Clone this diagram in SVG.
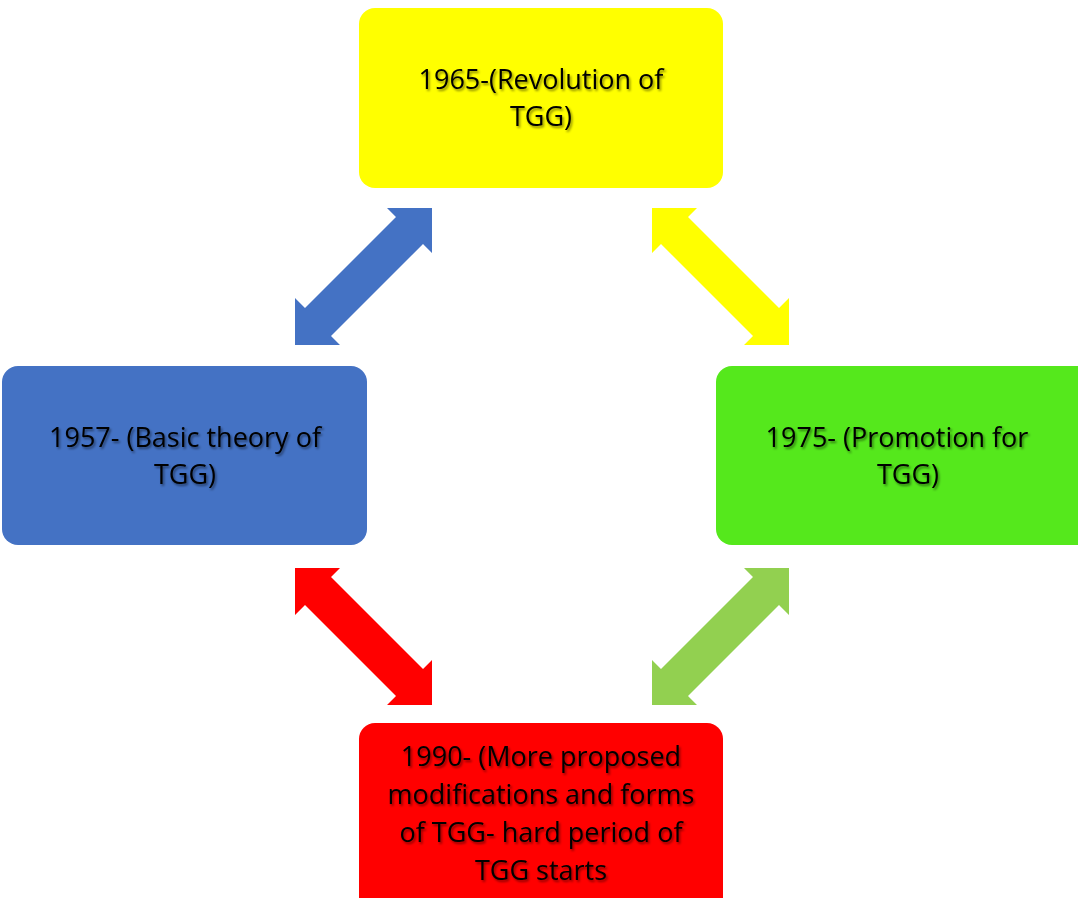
<svg xmlns="http://www.w3.org/2000/svg" width="1078" height="898" viewBox="0 0 1078 898">
<defs>
<filter id="sh" x="-10%" y="-10%" width="120%" height="130%"><feDropShadow dx="1.5" dy="2" stdDeviation="1.2" flood-color="#000" flood-opacity="0.45"/></filter>
<polygon id="arr" points="295,345 295,298 305,308 396,217 387,208 432,208 432,253 423,244 331,336 340,345"/>
</defs>
<style>
text{font-family:"Open Sans","Liberation Sans",sans-serif;font-size:27px;fill:#000;text-anchor:middle;filter:url(#sh)}
</style>
<rect width="1078" height="898" fill="#fff"/>
<g id="connectors">
<use href="#arr" fill="#4472C4"/>
<use href="#arr" fill="#FFFF00" transform="translate(1084,0) scale(-1,1)"/>
<use href="#arr" fill="#FF0000" transform="translate(0,913) scale(1,-1)"/>
<use href="#arr" fill="#92D050" transform="translate(1084,913) scale(-1,-1)"/>
</g>
<g id="n1965"><rect x="359" y="8" width="364" height="180" rx="16" fill="#FFFF00"/>
<text x="541" y="89">1965-(Revolution of</text><text x="541" y="126">TGG)</text></g>
<g id="n1957"><rect x="2" y="366" width="365" height="179" rx="16" fill="#4472C4"/>
<text x="185" y="447">1957- (Basic theory of</text><text x="185" y="484">TGG)</text></g>
<g id="n1975"><rect x="716" y="366" width="380" height="179" rx="16" fill="#55E81C"/>
<text x="897" y="447">1975- (Promotion for</text><text x="908" y="484">TGG)</text></g>
<g id="n1990"><rect x="359" y="723" width="364" height="190" rx="16" fill="#FF0000"/>
<text x="541" y="766">1990- (More proposed</text><text x="541" y="804">modifications and forms</text><text x="541" y="842">of TGG- hard period of</text><text x="541" y="880">TGG starts</text></g>
</svg>
